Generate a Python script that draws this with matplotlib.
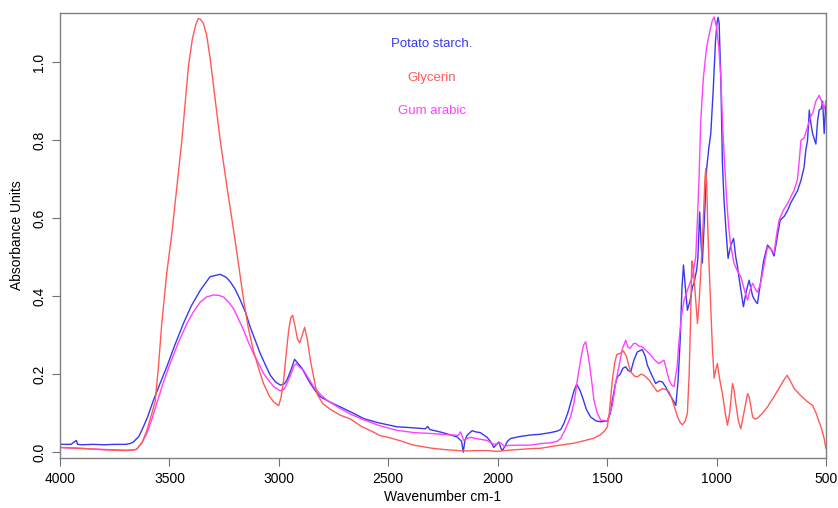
import numpy as np
import matplotlib.pyplot as plt
import matplotlib
matplotlib.rcParams['font.family'] = ['Liberation Sans', 'DejaVu Sans']

# Potato starch (blue)
starch_wn = [4000, 3950, 3925, 3920, 3900, 3850, 3800, 3750, 3700, 3680, 3665, 3640, 3619, 3600,
             3573, 3540, 3512, 3475, 3436, 3400, 3359, 3314, 3268, 3240, 3222, 3200, 3176, 3150,
             3131, 3110, 3085, 3060, 3039, 3015, 2993, 2975, 2963, 2945, 2928, 2910, 2894, 2875,
             2856, 2830, 2810, 2765, 2719, 2660, 2612, 2550, 2460, 2400, 2330, 2320, 2310, 2250,
             2185, 2165, 2157, 2150, 2140, 2117, 2100, 2079, 2048, 2030, 2018, 2005, 1995, 1985,
             1979, 1970, 1964, 1955, 1941, 1900, 1850, 1804, 1760, 1728, 1712, 1697, 1680, 1667,
             1650, 1639, 1625, 1613, 1595, 1575, 1550, 1529, 1499, 1485, 1476, 1462, 1453, 1440,
             1428, 1415, 1405, 1392, 1378, 1362, 1339, 1325, 1316, 1298, 1278, 1262, 1247, 1230,
             1217, 1200, 1186, 1176, 1166, 1158, 1151, 1142, 1133, 1120, 1110, 1103, 1090, 1085,
             1077, 1070, 1065, 1055, 1045, 1035, 1026, 1015, 1005, 998, 993, 988, 980, 973, 966,
             957, 947, 935, 922, 912, 904, 890, 877, 865, 851, 835, 820, 813, 800, 785, 767, 750,
             737, 720, 709, 690, 675, 660, 645, 630, 614, 600, 592, 584, 576, 568, 561, 546, 538,
             531, 522, 515, 508, 500]
starch_abs = [0.020, 0.020, 0.030, 0.020, 0.019, 0.020, 0.019, 0.020, 0.020, 0.022, 0.026, 0.040,
              0.065, 0.090, 0.133, 0.180, 0.219, 0.275, 0.330, 0.375, 0.415, 0.450, 0.456, 0.448,
              0.437, 0.418, 0.390, 0.355, 0.321, 0.290, 0.253, 0.222, 0.197, 0.180, 0.172, 0.175,
              0.185, 0.210, 0.238, 0.226, 0.215, 0.195, 0.176, 0.155, 0.142, 0.128, 0.116, 0.100,
              0.086, 0.076, 0.065, 0.063, 0.060, 0.066, 0.058, 0.050, 0.039, 0.028, 0.000, 0.030,
              0.043, 0.055, 0.052, 0.050, 0.038, 0.025, 0.012, 0.020, 0.026, 0.010, 0.004, 0.012,
              0.018, 0.028, 0.035, 0.040, 0.044, 0.046, 0.050, 0.054, 0.058, 0.074, 0.100, 0.125,
              0.160, 0.174, 0.160, 0.142, 0.110, 0.090, 0.080, 0.078, 0.080, 0.100, 0.133, 0.175,
              0.193, 0.200, 0.215, 0.219, 0.210, 0.206, 0.235, 0.257, 0.263, 0.245, 0.223, 0.200,
              0.176, 0.182, 0.180, 0.165, 0.150, 0.135, 0.120, 0.180, 0.287, 0.420, 0.480, 0.420,
              0.364, 0.390, 0.424, 0.433, 0.470, 0.500, 0.616, 0.530, 0.485, 0.600, 0.728, 0.780,
              0.818, 0.930, 1.050, 1.100, 1.115, 1.100, 0.950, 0.740, 0.650, 0.570, 0.497, 0.530,
              0.548, 0.500, 0.475, 0.420, 0.373, 0.410, 0.441, 0.400, 0.385, 0.381, 0.430, 0.490,
              0.531, 0.520, 0.503, 0.560, 0.595, 0.605, 0.620, 0.640, 0.655, 0.670, 0.697, 0.730,
              0.774, 0.800, 0.877, 0.840, 0.817, 0.790, 0.850, 0.877, 0.880, 0.900, 0.817, 0.900]

# Glycerin (red)
glyc_wn = [4000, 3900, 3800, 3700, 3660, 3649, 3625, 3603, 3585, 3565, 3550, 3535, 3512, 3489,
           3466, 3443, 3413, 3395, 3380, 3368, 3358, 3345, 3330, 3314, 3290, 3268, 3237, 3199, 3161,
           3140, 3116, 3090, 3070, 3045, 3024, 3001, 2990, 2978, 2965, 2955, 2945, 2937, 2925,
           2915, 2905, 2893, 2882, 2870, 2856, 2840, 2826, 2800, 2765, 2720, 2673, 2620, 2580,
           2536, 2500, 2450, 2384, 2300, 2231, 2155, 2100, 2050, 2002, 1950, 1900, 1850, 1804,
           1750, 1700, 1652, 1600, 1560, 1530, 1510, 1499, 1490, 1476, 1465, 1456, 1438, 1426,
           1411, 1400, 1392, 1375, 1362, 1345, 1331, 1308, 1290, 1270, 1247, 1230, 1217, 1200,
           1178, 1165, 1156, 1143, 1133, 1125, 1118, 1113, 1108, 1099, 1087, 1080, 1072, 1060,
           1053, 1049, 1045, 1040, 1034, 1025, 1019, 1011, 1004, 996, 985, 973, 960, 950, 940,
           927, 920, 912, 900, 889, 875, 858, 850, 835, 825, 813, 790, 767, 740, 706, 690, 678,
           665, 645, 615, 584, 561, 545, 523, 510, 500]
glyc_abs = [0.012, 0.010, 0.006, 0.004, 0.006, 0.008, 0.025, 0.056, 0.090, 0.130, 0.220, 0.330,
            0.460, 0.560, 0.680, 0.800, 0.990, 1.060, 1.095, 1.112, 1.110, 1.100, 1.070, 1.010,
            0.900, 0.800, 0.680, 0.540, 0.390, 0.320, 0.260, 0.210, 0.176, 0.145, 0.129, 0.119,
            0.140, 0.185, 0.260, 0.313, 0.345, 0.351, 0.320, 0.290, 0.280, 0.300, 0.320, 0.290,
            0.236, 0.190, 0.150, 0.125, 0.110, 0.095, 0.085, 0.065, 0.055, 0.042, 0.038, 0.030,
            0.018, 0.010, 0.006, 0.003, 0.004, 0.004, 0.002, 0.005, 0.007, 0.009, 0.010, 0.015,
            0.019, 0.023, 0.030, 0.036, 0.045, 0.055, 0.065, 0.100, 0.185, 0.230, 0.250, 0.254,
            0.260, 0.245, 0.220, 0.206, 0.195, 0.193, 0.200, 0.197, 0.185, 0.170, 0.155, 0.163,
            0.160, 0.155, 0.130, 0.090, 0.075, 0.070, 0.080, 0.100, 0.200, 0.350, 0.490, 0.480,
            0.420, 0.330, 0.380, 0.460, 0.600, 0.700, 0.727, 0.690, 0.580, 0.480, 0.350, 0.270,
            0.190, 0.210, 0.227, 0.185, 0.150, 0.100, 0.069, 0.100, 0.176, 0.160, 0.125, 0.080,
            0.060, 0.100, 0.150, 0.140, 0.090, 0.085, 0.087, 0.100, 0.116, 0.140, 0.172, 0.187,
            0.197, 0.185, 0.163, 0.145, 0.129, 0.120, 0.100, 0.065, 0.040, 0.010]

# Gum arabic (magenta)
gum_wn = [4000, 3900, 3800, 3700, 3660, 3649, 3625, 3603, 3580, 3558, 3530, 3497, 3460, 3420,
          3390, 3359, 3330, 3299, 3275, 3253, 3230, 3207, 3185, 3161, 3140, 3116, 3090, 3070,
          3045, 3024, 2993, 2975, 2963, 2945, 2930, 2920, 2905, 2887, 2865, 2841, 2810, 2780,
          2719, 2670, 2612, 2540, 2460, 2380, 2307, 2240, 2180, 2170, 2162, 2155, 2140, 2125,
          2090, 2048, 2018, 2000, 1987, 1970, 1956, 1900, 1850, 1804, 1760, 1728, 1712, 1690,
          1667, 1650, 1636, 1620, 1608, 1598, 1583, 1570, 1560, 1545, 1529, 1499, 1476, 1460,
          1446, 1430, 1415, 1405, 1395, 1380, 1369, 1355, 1339, 1320, 1301, 1280, 1263, 1250,
          1240, 1228, 1217, 1205, 1194, 1180, 1171, 1160, 1148, 1130, 1110, 1095, 1087, 1080,
          1072, 1060, 1045, 1030, 1020, 1011, 1000, 990, 980, 973, 965, 955, 945, 935, 920, 905,
          889, 870, 858, 845, 835, 820, 813, 800, 790, 767, 750, 737, 725, 714, 695, 675, 660,
          645, 630, 620, 614, 600, 584, 570, 560, 546, 531, 520, 515, 508, 500]
gum_abs = [0.012, 0.009, 0.007, 0.005, 0.006, 0.008, 0.025, 0.048, 0.085, 0.125, 0.175, 0.227,
           0.280, 0.330, 0.360, 0.385, 0.398, 0.403, 0.402, 0.398, 0.385, 0.368, 0.342, 0.313,
           0.283, 0.253, 0.225, 0.202, 0.183, 0.168, 0.157, 0.162, 0.176, 0.200, 0.222, 0.227,
           0.218, 0.210, 0.190, 0.168, 0.148, 0.133, 0.112, 0.097, 0.083, 0.068, 0.056, 0.050,
           0.048, 0.045, 0.043, 0.052, 0.040, 0.030, 0.035, 0.038, 0.034, 0.030, 0.020, 0.022,
           0.024, 0.015, 0.017, 0.018, 0.018, 0.022, 0.024, 0.028, 0.035, 0.060, 0.090, 0.130,
           0.185, 0.240, 0.274, 0.283, 0.236, 0.180, 0.133, 0.100, 0.082, 0.080, 0.120, 0.180,
           0.219, 0.265, 0.287, 0.270, 0.266, 0.278, 0.279, 0.272, 0.270, 0.260, 0.249, 0.235,
           0.227, 0.232, 0.236, 0.210, 0.185, 0.172, 0.168, 0.220, 0.287, 0.350, 0.390, 0.420,
           0.450, 0.500, 0.600, 0.700, 0.850, 0.960, 1.040, 1.080, 1.105, 1.116, 1.090, 1.040,
           0.960, 0.850, 0.760, 0.660, 0.580, 0.530, 0.484, 0.465, 0.450, 0.410, 0.390, 0.420,
           0.433, 0.415, 0.410, 0.430, 0.458, 0.526, 0.520, 0.510, 0.560, 0.595, 0.620, 0.638,
           0.655, 0.672, 0.700, 0.760, 0.800, 0.805, 0.834, 0.860, 0.870, 0.900, 0.915, 0.900,
           0.890, 0.880, 0.900]

series_names = ['Potato starch.', 'Glycerin', 'Gum arabic']
colors = ['#3838f0', '#ff5a5a', '#ff40ff']

fig = plt.figure(figsize=(8.38, 5.08), dpi=100)
ax = fig.add_axes([0.0716, 0.0984, 0.914, 0.876])

ax.plot(starch_wn, starch_abs, color=colors[0], linewidth=1.0)
ax.plot(gum_wn, gum_abs, color=colors[2], linewidth=1.0)
ax.plot(glyc_wn, glyc_abs, color=colors[1], linewidth=1.0)

for name, col, ty in zip(series_names, colors, [0.93, 0.855, 0.78]):
    ax.text(0.4855, ty, name, transform=ax.transAxes, color=col, fontsize=9.5,
            ha='center', va='center')

ax.set_xlim(4000, 500)
ax.set_ylim(-0.015, 1.126)
ax.set_xticks([4000, 3500, 3000, 2500, 2000, 1500, 1000, 500])
ax.set_yticks([0.0, 0.2, 0.4, 0.6, 0.8, 1.0])
ax.set_yticklabels(['0.0', '0.2', '0.4', '0.6', '0.8', '1.0'], rotation=90, va='center')
ax.tick_params(direction='out', length=6, color='#707070', labelsize=10, pad=4)

for sp in ax.spines.values():
    sp.set_color('#808080')
    sp.set_linewidth(1.0)

ax.set_xlabel('Wavenumber cm-1', fontsize=10, labelpad=3)
ax.set_ylabel('Absorbance Units', fontsize=10, labelpad=6)

plt.savefig('out.png', dpi=100)
plt.close()
